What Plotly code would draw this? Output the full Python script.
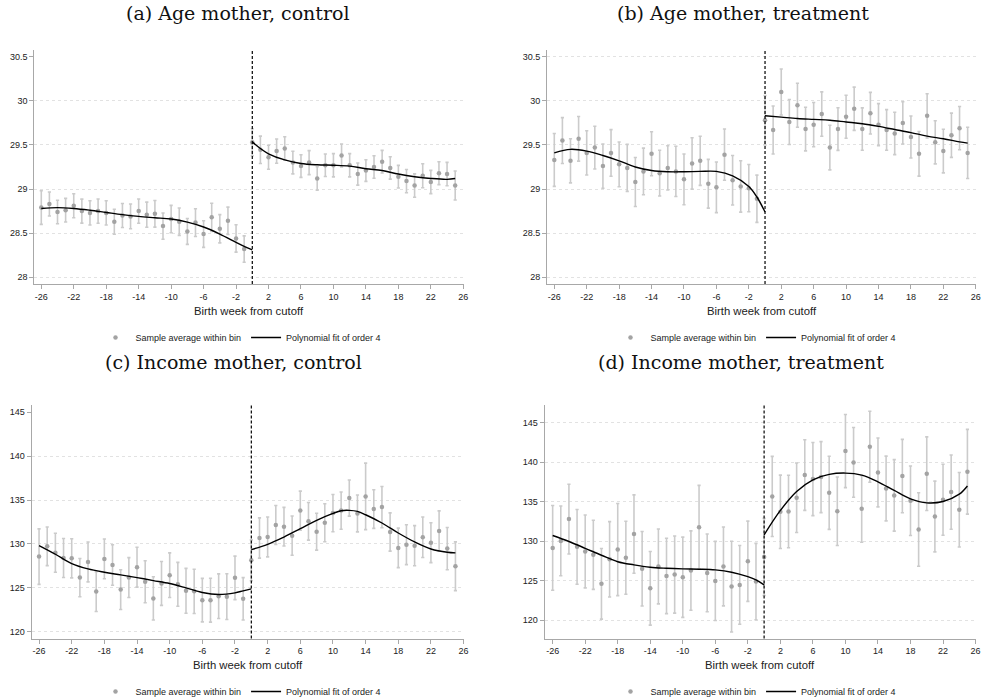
import plotly.graph_objects as go

# ---------------- data ----------------
weeks = list(range(-26, 26))
cutoff = 0
x_ticks = list(range(-26, 27, 4))

age_ticks = [28, 28.5, 29, 29.5, 30, 30.5]
age_tick_text = ["28", "28.5", "29", "29.5", "30", "30.5"]
inc_ticks = [120, 125, 130, 135, 140, 145]
inc_tick_text = ["120", "125", "130", "135", "140", "145"]

titles = ["(a) Age mother, control", "(b) Age mother, treatment",
          "(c) Income mother, control", "(d) Income mother, treatment"]
x_title = "Birth week from cutoff"
legend_points = "Sample average within bin"
legend_fit = "Polynomial fit of order 4"

# (a) age of mother, control
age_ctrl_mean = [28.79, 28.83, 28.74, 28.76, 28.81, 28.75, 28.73, 28.75, 28.73, 28.63, 28.70, 28.69, 28.75,
                 28.71, 28.72, 28.58, 28.66, 28.63, 28.52, 28.62, 28.49, 28.68, 28.55, 28.64, 28.44, 28.32,
                 29.53, 29.445, 29.36, 29.43, 29.46, 29.30, 29.26, 29.30, 29.12, 29.27, 29.27, 29.38, 29.27,
                 29.17, 29.21, 29.25, 29.31, 29.24, 29.14, 29.09, 29.04, 29.15, 29.08, 29.18, 29.17, 29.04]
age_ctrl_ci = [0.19, 0.136, 0.134, 0.134, 0.136, 0.136, 0.138, 0.138, 0.138, 0.142, 0.136, 0.14, 0.138,
               0.142, 0.151, 0.149, 0.155, 0.155, 0.147, 0.157, 0.151, 0.16, 0.16, 0.155, 0.155, 0.149,
               0.153, 0.155, 0.136, 0.138, 0.132, 0.128, 0.128, 0.136, 0.132, 0.128, 0.132, 0.13, 0.132,
               0.125, 0.123, 0.128, 0.128, 0.127, 0.128, 0.132, 0.132, 0.136, 0.132, 0.13, 0.132, 0.164]
age_ctrl_fit_left_x = [-26, -24, -22, -20, -18, -16, -14, -12, -10, -8, -6, -4, -2, -1, 0]
age_ctrl_fit_left_y = [28.78, 28.79, 28.78, 28.76, 28.735, 28.71, 28.69, 28.675, 28.66, 28.625, 28.57,
                       28.49, 28.395, 28.35, 28.31]
age_ctrl_fit_right_x = [0, 1, 2, 4, 6, 8, 10, 12, 14, 16, 18, 20, 22, 24, 25]
age_ctrl_fit_right_y = [29.535, 29.46, 29.40, 29.33, 29.29, 29.275, 29.27, 29.26, 29.23, 29.21, 29.17,
                        29.14, 29.12, 29.11, 29.12]

# (b) age of mother, treatment
age_treat_mean = [29.33, 29.55, 29.32, 29.57, 29.41, 29.47, 29.26, 29.41, 29.28, 29.24, 29.08, 29.20, 29.40,
                  29.18, 29.24, 29.20, 29.11, 29.29, 29.32, 29.06, 29.02, 29.39, 29.10, 29.03, 29.01, 28.89,
                  29.78, 29.67, 30.10, 29.76, 29.95, 29.68, 29.73, 29.85, 29.47, 29.68, 29.82, 29.91, 29.68,
                  29.86, 29.73, 29.67, 29.63, 29.75, 29.59, 29.40, 29.83, 29.53, 29.43, 29.61, 29.69, 29.41]
age_treat_ci = [0.30, 0.26, 0.25, 0.253, 0.25, 0.242, 0.251, 0.264, 0.253, 0.266, 0.278, 0.264, 0.25,
                0.259, 0.25, 0.285, 0.287, 0.291, 0.278, 0.276, 0.287, 0.291, 0.28, 0.291, 0.268, 0.268,
                0.281, 0.272, 0.26, 0.255, 0.25, 0.247, 0.251, 0.251, 0.253, 0.242, 0.244, 0.245, 0.24,
                0.236, 0.238, 0.23, 0.24, 0.24, 0.238, 0.253, 0.251, 0.245, 0.247, 0.251, 0.245, 0.291]
age_treat_fit_left_x = [-26, -24, -22, -20, -18, -16, -14, -12, -10, -8, -6, -4, -2, -1, 0]
age_treat_fit_left_y = [29.41, 29.45, 29.43, 29.38, 29.32, 29.25, 29.21, 29.196, 29.196, 29.20, 29.20,
                        29.15, 29.03, 28.91, 28.74]
age_treat_fit_right_x = [0, 2, 4, 6, 8, 10, 12, 14, 16, 18, 20, 22, 24, 25]
age_treat_fit_right_y = [29.83, 29.815, 29.80, 29.79, 29.78, 29.76, 29.74, 29.71, 29.675, 29.64, 29.60,
                         29.57, 29.535, 29.52]

# (c) income of mother, control
inc_ctrl_mean = [128.56, 129.73, 129.0, 128.4, 128.37, 126.17, 127.95, 124.58, 128.3, 127.6, 124.8, 126.17,
                 127.35, 125.7, 123.8, 125.5, 126.44, 125.4, 124.66, 124.6, 123.6, 123.6, 124.05, 124.0,
                 126.14, 123.75,
                 128.14, 130.68, 130.8, 132.17, 131.97, 130.95, 133.8, 132.58, 131.4, 132.42, 133.52, 133.8,
                 135.23, 133.48, 135.42, 133.98, 134.2, 131.36, 129.55, 129.92, 129.8, 130.76, 130.15,
                 131.48, 129.47, 127.46]
inc_ctrl_ci = [3.16, 2.2, 2.22, 2.22, 2.23, 2.18, 2.27, 2.27, 2.27, 2.31, 2.27, 2.27, 2.27, 2.39, 2.46, 2.5,
               2.54, 2.5, 2.56, 2.52, 2.48, 2.5, 2.54, 2.6, 2.48, 2.42,
               2.33, 2.29, 2.27, 2.22, 2.2, 2.23, 2.22, 2.14, 2.1, 2.16, 2.12, 2.12, 2.06, 2.1, 3.79, 2.2,
               2.35, 2.18, 2.25, 2.27, 2.29, 2.31, 2.27, 2.29, 2.4, 2.78]
inc_ctrl_fit_left_x = [-26, -24, -22, -20, -18, -16, -14, -12, -10, -8, -6, -4, -2, -1, 0]
inc_ctrl_fit_left_y = [129.81, 128.83, 127.77, 127.16, 126.78, 126.48, 126.17, 125.83, 125.49, 125.0,
                       124.47, 124.24, 124.43, 124.66, 124.89]
inc_ctrl_fit_right_x = [0, 2, 4, 6, 8, 10, 11, 12, 13, 14, 16, 18, 20, 22, 24, 25]
inc_ctrl_fit_right_y = [129.36, 129.96, 130.79, 131.74, 132.69, 133.48, 133.79, 133.83, 133.71, 133.33,
                        132.39, 131.25, 130.23, 129.43, 129.05, 128.98]

# (d) income of mother, treatment
inc_treat_mean = [129.15, 130.04, 132.8, 129.28, 128.7, 128.27, 124.6, 127.7, 128.94, 127.9, 130.9, 126.5,
                  124.03, 126.8, 125.6, 125.77, 125.43, 126.28, 131.78, 125.98, 124.97, 126.8, 124.25,
                  124.46, 127.46, 124.88,
                  128.0, 135.67, 133.72, 133.76, 135.5, 138.38, 137.87, 138.12, 136.13, 133.8, 141.42,
                  139.98, 134.1, 141.97, 138.71, 136.68, 135.8, 138.25, 135.12, 131.48, 138.55, 133.13,
                  135.25, 136.22, 133.98, 138.8]
inc_treat_ci = [5.37, 4.42, 4.42, 4.74, 4.61, 4.38, 4.48, 4.78, 5.84, 4.63, 4.97, 4.72, 4.67, 4.74, 4.78,
                4.89, 5.08, 5.03, 5.29, 4.93, 5.01, 4.99, 5.75, 4.99, 5.08, 4.84,
                4.89, 5.08, 4.65, 4.59, 4.4, 4.48, 4.63, 4.5, 4.63, 4.34, 4.63, 4.42, 4.23, 4.5, 4.36, 4.1,
                4.53, 4.65, 4.4, 4.65, 4.67, 4.48, 4.5, 4.7, 4.72, 5.37]
inc_treat_fit_left_x = [-26, -24, -22, -20, -18, -16, -14, -12, -10, -8, -6, -4, -2, -1, 0]
inc_treat_fit_left_y = [130.72, 129.96, 129.1, 128.22, 127.4, 127.0, 126.7, 126.57, 126.49, 126.45,
                        126.36, 126.07, 125.5, 125.1, 124.46]
inc_treat_fit_right_x = [0, 2, 4, 6, 8, 10, 12, 14, 16, 18, 20, 22, 24, 25]
inc_treat_fit_right_y = [130.8, 133.9, 136.3, 137.78, 138.46, 138.63, 138.38, 137.53, 136.43, 135.37,
                         134.86, 135.03, 135.96, 137.0]

# ---------------- layout helpers ----------------
W, H = 982, 699


def px_x(p):
    return p / W


def px_y(p):
    return (H - p) / H


panels = [
    dict(mean=age_ctrl_mean, ci=age_ctrl_ci,
         fl=(age_ctrl_fit_left_x, age_ctrl_fit_left_y), fr=(age_ctrl_fit_right_x, age_ctrl_fit_right_y),
         xdom=(34.3, 463.7), ydom=(50, 284), xr=[-26.86, 26.05], yr=[27.924, 30.576],
         yt=age_ticks, ytt=age_tick_text, grid=age_ticks[:-1], title_x=238, title_y=13,
         xt_y=311, leg_x=241, leg_y=337.5),
    dict(mean=age_treat_mean, ci=age_treat_ci,
         fl=(age_treat_fit_left_x, age_treat_fit_left_y), fr=(age_treat_fit_right_x, age_treat_fit_right_y),
         xdom=(547.0, 976.0), ydom=(50, 284), xr=[-26.9, 26.03], yr=[27.924, 30.576],
         yt=age_ticks, ytt=age_tick_text, grid=age_ticks, title_x=743, title_y=13,
         xt_y=311, leg_x=756, leg_y=337.5),
    dict(mean=inc_ctrl_mean, ci=inc_ctrl_ci,
         fl=(inc_ctrl_fit_left_x, inc_ctrl_fit_left_y), fr=(inc_ctrl_fit_right_x, inc_ctrl_fit_right_y),
         xdom=(31.7, 464.0), ydom=(404.5, 638.5), xr=[-26.9, 26.05], yr=[119.23, 145.89],
         yt=inc_ticks, ytt=inc_tick_text, grid=inc_ticks[:-1], title_x=233, title_y=362,
         xt_y=665, leg_x=241, leg_y=691.5),
    dict(mean=inc_treat_mean, ci=inc_treat_ci,
         fl=(inc_treat_fit_left_x, inc_treat_fit_left_y), fr=(inc_treat_fit_right_x, inc_treat_fit_right_y),
         xdom=(544.7, 975.8), ydom=(404.5, 638.5), xr=[-26.98, 26.03], yr=[117.67, 147.32],
         yt=inc_ticks, ytt=inc_tick_text, grid=inc_ticks, title_x=741, title_y=362,
         xt_y=665, leg_x=756, leg_y=691.5),
]

AX_GREY = "#a8a8a8"
DOT = "#a3a3a3"
BAR = "#cbcbcb"
GRID = "#e2e2e2"
SANS = "Liberation Sans, Arial, sans-serif"
SERIF = "DejaVu Serif, serif"

fig = go.Figure()
layout = dict(template="none", width=W, height=H,
              margin=dict(l=0, r=0, t=0, b=0, pad=0, autoexpand=False),
              paper_bgcolor="white", plot_bgcolor="white", showlegend=True,
              annotations=[], shapes=[])

for i, p in enumerate(panels):
    n = i + 1
    sfx = "" if n == 1 else str(n)
    ov = str(n + 4)
    leg = "legend" if n == 1 else f"legend{n}"

    fig.add_trace(go.Scatter(
        x=weeks, y=p["mean"], mode="markers", name=legend_points,
        xaxis=f"x{sfx}", yaxis=f"y{sfx}", legend=leg,
        marker=dict(color=DOT, size=4.5, line=dict(width=0)),
        error_y=dict(type="data", array=p["ci"], visible=True, color=BAR, thickness=1.6, width=1.6),
        hoverinfo="skip"))
    fig.add_trace(go.Scatter(
        x=p["fl"][0], y=p["fl"][1], mode="lines", name=legend_fit,
        xaxis=f"x{sfx}", yaxis=f"y{sfx}", legend=leg,
        line=dict(color="black", width=1.4, shape="spline", smoothing=1.0), hoverinfo="skip"))
    fig.add_trace(go.Scatter(
        x=p["fr"][0], y=p["fr"][1], mode="lines", name=legend_fit, showlegend=False,
        xaxis=f"x{sfx}", yaxis=f"y{sfx}", legend=leg,
        line=dict(color="black", width=1.4, shape="spline", smoothing=1.0), hoverinfo="skip"))
    # empty trace to activate overlay axis
    fig.add_trace(go.Scatter(x=[], y=[], xaxis=f"x{sfx}", yaxis=f"y{ov}", showlegend=False,
                             hoverinfo="skip"))

    xd = [px_x(p["xdom"][0]), px_x(p["xdom"][1])]
    yd = [px_y(p["ydom"][1]), px_y(p["ydom"][0])]

    layout[f"xaxis{sfx}"] = dict(
        domain=xd, range=p["xr"], anchor=f"y{sfx}", tickvals=x_ticks, automargin=False,
        ticktext=[str(v) for v in x_ticks], ticks="outside", ticklen=4, tickwidth=1,
        tickcolor=AX_GREY, showline=True, linecolor=AX_GREY, linewidth=1,
        showgrid=False, zeroline=False, tickfont=dict(family=SANS, size=9, color="#222"))
    layout[f"yaxis{sfx}"] = dict(
        domain=yd, range=p["yr"], anchor=f"x{sfx}", tickvals=p["grid"], automargin=False,
        showticklabels=False, ticks="", showline=False, showgrid=True,
        gridcolor=GRID, griddash="dot", gridwidth=1, zeroline=False)
    layout[f"yaxis{ov}"] = dict(
        overlaying=f"y{sfx}", anchor=f"x{sfx}", range=p["yr"], tickvals=p["yt"], automargin=False,
        ticktext=p["ytt"], ticks="outside", ticklen=4, tickwidth=1, tickcolor=AX_GREY,
        showline=True, linecolor=AX_GREY, linewidth=1, showgrid=False, zeroline=False,
        tickfont=dict(family=SANS, size=9, color="#222"))

    layout[leg] = dict(
        orientation="h", x=px_x(p["leg_x"]), y=px_y(p["leg_y"]), xanchor="center",
        yanchor="middle", font=dict(family=SANS, size=9, color="#222"),
        bgcolor="rgba(0,0,0,0)", itemwidth=30, tracegroupgap=0)

    # cutoff line
    layout["shapes"].append(dict(
        type="line", xref=f"x{sfx}", yref=f"y{sfx} domain", x0=cutoff, x1=cutoff, y0=0, y1=1,
        line=dict(color="black", width=1.2, dash="3px,2px"), layer="above"))

    # panel title
    layout["annotations"].append(dict(
        text=titles[i], xref="paper", yref="paper", x=px_x(p["title_x"]), y=px_y(p["title_y"]),
        xanchor="center", yanchor="middle", showarrow=False,
        font=dict(family=SERIF, size=19, color="#111")))
    # x axis title
    layout["annotations"].append(dict(
        text=x_title, xref="paper", yref="paper", x=(xd[0] + xd[1]) / 2, y=px_y(p["xt_y"]),
        xanchor="center", yanchor="middle", showarrow=False,
        font=dict(family=SANS, size=11.3, color="#222")))

fig.update_layout(**layout)
fig.write_html("out.html",
               config={"displayModeBar": False, "staticPlot": True},
               post_script="document.body.style.margin='0';document.body.style.padding='0';")
